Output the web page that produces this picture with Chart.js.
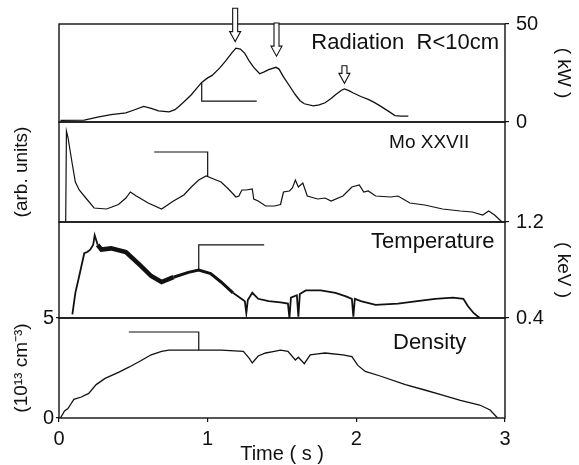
<!DOCTYPE html>
<html>
<head>
<meta charset="utf-8">
<script src="https://cdn.jsdelivr.net/npm/chart.js@4.4.0/dist/chart.umd.min.js"></script>
<style>
  html, body { margin: 0; padding: 0; background: #fff; }
  #wrap { width: 579px; height: 465px; }
</style>
</head>
<body>
<div id="wrap"><canvas id="fig" width="579" height="465"></canvas></div>
<script>
// tick labels
const timeTicks = [0, 1, 2, 3];
const radiationTicks = [0, 50];
const temperatureTicks = [0.4, 1.2];
const densityTicks = [0, 5];

// panel names
const panelNames = ['Radiation  R<10cm', 'Mo XXVII', 'Temperature', 'Density'];

// Radiation R<10cm (kW)
const radTime = [0.01, 0.17, 0.26, 0.35, 0.45, 0.50, 0.57, 0.62, 0.67, 0.74,
                 0.78, 0.81, 0.85, 0.89, 0.93, 0.96, 1.00, 1.03, 1.08, 1.12,
                 1.16, 1.19, 1.22, 1.25, 1.28, 1.31, 1.35, 1.38, 1.41, 1.46,
                 1.48, 1.51, 1.55, 1.59, 1.62, 1.65, 1.71, 1.75, 1.79, 1.83,
                 1.86, 1.90, 1.92, 1.95, 1.98, 2.03, 2.08, 2.12, 2.16, 2.21,
                 2.26, 2.30, 2.35];
const radPower = [0.8, 1.0, 2.5, 3.8, 4.6, 6.0, 8.0, 7.0, 5.7, 5.2,
                  6.3, 8.2, 11.0, 13.9, 17.5, 20.2, 22.5, 23.8, 27.5, 31.1,
                  35.0, 37.7, 37.2, 35.0, 31.0, 27.9, 24.6, 25.6, 26.7, 27.9,
                  27.0, 23.0, 18.5, 13.9, 11.0, 9.3, 8.2, 8.7, 9.8, 12.0,
                  13.9, 16.2, 16.9, 16.0, 14.8, 13.0, 11.5, 10.0, 8.2, 5.8,
                  3.3, 3.0, 3.0];

// Mo XXVII (arb. units)
const moTime = [0.045, 0.05, 0.06, 0.087, 0.11, 0.136, 0.186, 0.236, 0.32, 0.40,
                0.45, 0.48, 0.52, 0.60, 0.69, 0.77, 0.84, 0.89, 0.94, 0.99,
                1.04, 1.09, 1.14, 1.19, 1.21, 1.23, 1.26, 1.30, 1.31, 1.34,
                1.39, 1.45, 1.49, 1.51, 1.55, 1.57, 1.59, 1.61, 1.64, 1.67,
                1.74, 1.79, 1.83, 1.91, 1.97, 2.02, 2.05, 2.08, 2.13, 2.23,
                2.28, 2.36, 2.46, 2.58, 2.70, 2.78, 2.85, 2.89, 2.93, 2.98];
const moSignal = [0, 0.91, 0.85, 0.60, 0.40, 0.32, 0.23, 0.14, 0.13, 0.175,
                  0.24, 0.30, 0.26, 0.19, 0.13, 0.21, 0.27, 0.35, 0.42, 0.46,
                  0.43, 0.40, 0.33, 0.25, 0.26, 0.32, 0.32, 0.33, 0.23, 0.21,
                  0.16, 0.16, 0.175, 0.30, 0.31, 0.34, 0.42, 0.35, 0.39, 0.26,
                  0.23, 0.24, 0.21, 0.26, 0.35, 0.37, 0.30, 0.31, 0.26, 0.25,
                  0.26, 0.19, 0.17, 0.13, 0.11, 0.10, 0.07, 0.11, 0.07, 0];

// Temperature (keV)
const tempTime = [0.09, 0.11, 0.136, 0.17, 0.19, 0.21, 0.23, 0.24, 0.26, 0.285,
                  0.35, 0.45, 0.545, 0.62, 0.69, 0.77, 0.87, 0.94, 1.02, 1.09,
                  1.17, 1.25, 1.26, 1.27, 1.30, 1.34, 1.41, 1.49, 1.54, 1.55,
                  1.56, 1.60, 1.61, 1.62, 1.66, 1.76, 1.86, 1.93, 1.97, 1.98,
                  1.99, 2.03, 2.13, 2.28, 2.41, 2.53, 2.65, 2.72, 2.75, 2.79,
                  2.83];
const tempKeV = [0.43, 0.61, 0.75, 0.94, 0.95, 0.97, 1.01, 1.09, 1.01, 0.97,
                 0.98, 0.95, 0.84, 0.75, 0.70, 0.74, 0.78, 0.80, 0.77, 0.70,
                 0.61, 0.54, 0.44, 0.55, 0.61, 0.56, 0.54, 0.53, 0.52, 0.40,
                 0.57, 0.59, 0.41, 0.60, 0.63, 0.63, 0.61, 0.58, 0.56, 0.41,
                 0.56, 0.54, 0.51, 0.52, 0.54, 0.56, 0.57, 0.56, 0.50, 0.44,
                 0.40];

// Density (10^13 cm^-3)
const denTime = [0.01, 0.037, 0.06, 0.08, 0.10, 0.15, 0.20, 0.25, 0.31, 0.40,
                 0.47, 0.55, 0.62, 0.69, 0.74, 0.94, 1.09, 1.24, 1.28, 1.30,
                 1.34, 1.39, 1.44, 1.49, 1.54, 1.59, 1.61, 1.65, 1.69, 1.74,
                 1.79, 1.91, 1.97, 2.01, 2.06, 2.16, 2.33, 2.46, 2.58, 2.70,
                 2.83, 2.90, 2.95];
const denValue = [0, 0.35, 0.47, 0.70, 0.93, 1.05, 1.23, 1.67, 1.98, 2.28,
                  2.54, 2.86, 3.16, 3.33, 3.39, 3.39, 3.39, 3.33, 2.98, 2.75,
                  3.10, 3.25, 3.32, 3.39, 3.33, 2.90, 3.04, 2.72, 3.16, 3.21,
                  3.25, 3.16, 3.07, 2.63, 2.33, 2.10, 1.67, 1.40, 1.14, 0.88,
                  0.65, 0.40, 0];

// axis-indicator brackets (time, value)
const radBracketTime = [0.96, 0.96, 1.33];
const radBracketValue = [20.2, 10.7, 10.7];
const moBracketTime = [0.64, 1.0, 1.0];
const moBracketValue = [0.70, 0.70, 0.46];
const tempBracketTime = [0.94, 0.94, 1.38];
const tempBracketValue = [0.80, 1.01, 1.01];
const denBracketTime = [0.47, 0.94, 0.94];
const denBracketValue = [4.3, 4.3, 3.39];

// hollow arrows over the radiation peaks
const arrowTime = [1.185, 1.463, 1.92];
const arrowTop = [58, 50.5, 28.7];
const arrowTip = [41, 33.6, 19.7];

const ink = '#111';
const fam = '"Liberation Sans", Arial, Helvetica, sans-serif';
const zip = (xs, ys) => xs.map((x, i) => ({x: x, y: ys[i]}));

function trace(xs, ys, axis, width) {
  return {
    data: zip(xs, ys),
    yAxisID: axis,
    xAxisID: 'x',
    borderColor: ink,
    borderWidth: width || 1.3,
    pointRadius: 0,
    tension: 0,
    fill: false
  };
}

const tempSet = trace(tempTime, tempKeV, 'yTemp', 1.6);
tempSet.segment = {
  borderWidth: ctx => {
    const t = ctx.p0.parsed.x;
    if (t >= 0.26 && t < 0.7) return 4.5;
    if (t >= 0.7 && t < 1.1) return 3;
    return 1.8;
  }
};

function sideAxis(pos, weight, stackWeight, min, max, extra) {
  const base = {
    type: 'linear',
    position: pos,
    stack: pos,
    weight: weight,
    stackWeight: stackWeight,
    min: min,
    max: max,
    afterFit: s => { s.width = pos === 'left' ? 59 : 74; },
    ticks: { display: false },
    grid: { display: false },
    border: { display: false }
  };
  return Object.assign(base, extra || {});
}

function labelled(tickValues, pos) {
  return {
    afterBuildTicks: s => { s.ticks = tickValues.map(v => ({value: v})); },
    ticks: {
      display: true, color: ink, autoSkip: false,
      padding: pos === 'left' ? 2 : 7,
      font: { family: fam, size: 20 },
      callback: v => String(v)
    },
    grid: { display: true, drawOnChartArea: false, drawTicks: true, tickLength: pos === 'left' ? 3 : 4, color: ink, lineWidth: 1.2 }
  };
}

function sideTitle(text, pos) {
  return {
    display: true, text: text, color: ink,
    font: { family: fam, size: 19, lineHeight: 1.2 },
    padding: { top: pos === 'left' ? 10 : 4, bottom: 0 }
  };
}

const figureDecor = {
  id: 'figureDecor',
  afterDatasetsDraw(chart) {
    const ctx = chart.ctx;
    const ca = chart.chartArea;
    const xs = chart.scales.x;
    ctx.save();
    // panel frames
    ctx.strokeStyle = ink;
    ctx.lineWidth = 1.4;
    ['yRad', 'yMo', 'yTemp', 'yDen'].forEach(id => {
      const s = chart.scales[id];
      ctx.strokeRect(ca.left, s.top, ca.right - ca.left, s.bottom - s.top);
    });
    // panel names
    const spots = [
      {axis: 'yRad', x: 2.96, y: 40.5, size: 22},
      {axis: 'yMo', x: 2.76, y: 0.79, size: 19},
      {axis: 'yTemp', x: 2.93, y: 1.03, size: 22},
      {axis: 'yDen', x: 2.74, y: 3.74, size: 22}
    ];
    ctx.fillStyle = ink;
    ctx.textAlign = 'right';
    ctx.textBaseline = 'middle';
    spots.forEach((p, i) => {
      ctx.font = p.size + 'px ' + fam;
      ctx.fillText(panelNames[i], xs.getPixelForValue(p.x), chart.scales[p.axis].getPixelForValue(p.y));
    });
    // hollow arrows
    const ys = chart.scales.yRad;
    ctx.lineWidth = 1.1;
    arrowTime.forEach((t, i) => {
      const x = xs.getPixelForValue(t);
      const top = ys.getPixelForValue(arrowTop[i]);
      const tip = ys.getPixelForValue(arrowTip[i]);
      const head = 10;
      ctx.beginPath();
      ctx.moveTo(x - 2.5, top);
      ctx.lineTo(x + 2.5, top);
      ctx.lineTo(x + 2.5, tip - head);
      ctx.lineTo(x + 5.5, tip - head);
      ctx.lineTo(x, tip);
      ctx.lineTo(x - 5.5, tip - head);
      ctx.lineTo(x - 2.5, tip - head);
      ctx.closePath();
      ctx.fillStyle = '#fff';
      ctx.fill();
      ctx.stroke();
    });
    ctx.restore();
  }
};

new Chart(document.getElementById('fig'), {
  type: 'line',
  data: {
    datasets: [
      trace(radTime, radPower, 'yRad'),
      trace(moTime, moSignal, 'yMo', 1.2),
      tempSet,
      trace(denTime, denValue, 'yDen'),
      trace(radBracketTime, radBracketValue, 'yRad', 1.2),
      trace(moBracketTime, moBracketValue, 'yMo', 1.2),
      trace(tempBracketTime, tempBracketValue, 'yTemp', 1.2),
      trace(denBracketTime, denBracketValue, 'yDen', 1.2)
    ]
  },
  options: {
    responsive: false,
    animation: false,
    events: [],
    layout: { padding: { top: 24, left: 0, right: 0, bottom: 0 } },
    plugins: { legend: { display: false }, tooltip: { enabled: false } },
    scales: {
      x: {
        type: 'linear', position: 'bottom', min: 0, max: 3,
        afterBuildTicks: s => { s.ticks = timeTicks.map(v => ({value: v})); },
        afterFit: s => { s.height = 47; },
        ticks: { color: ink, autoSkip: false, maxRotation: 0, padding: 5,
                 font: { family: fam, size: 20 }, callback: v => String(v) },
        grid: { display: true, drawOnChartArea: false, drawTicks: true, tickLength: 4, color: ink, lineWidth: 1.2 },
        border: { display: false },
        title: { display: true, text: 'Time ( s )', color: ink,
                 font: { family: fam, size: 20, lineHeight: 1 }, padding: { top: 0, bottom: 1 } }
      },
      yDen: sideAxis('left', 1, 100, 0, 5, Object.assign(labelled(densityTicks, 'left'), { title: sideTitle('(10¹³ cm⁻³)', 'left') })),
      yTemp: sideAxis('left', 2, 96, 0.4, 1.2),
      yMo: sideAxis('left', 3, 100, 0, 1, { title: sideTitle('(arb. units)', 'left') }),
      yRad: sideAxis('left', 4, 98, 0, 50),
      rRad: sideAxis('right', 1, 98, 0, 50, Object.assign(labelled(radiationTicks, 'right'), { title: sideTitle('( kW )', 'right') })),
      rMo: sideAxis('right', 2, 100, 0, 1),
      rTemp: sideAxis('right', 3, 96, 0.4, 1.2, Object.assign(labelled(temperatureTicks, 'right'), { title: sideTitle('( keV )', 'right') })),
      rDen: sideAxis('right', 4, 100, 0, 5)
    }
  },
  plugins: [figureDecor]
});
</script>
</body>
</html>
